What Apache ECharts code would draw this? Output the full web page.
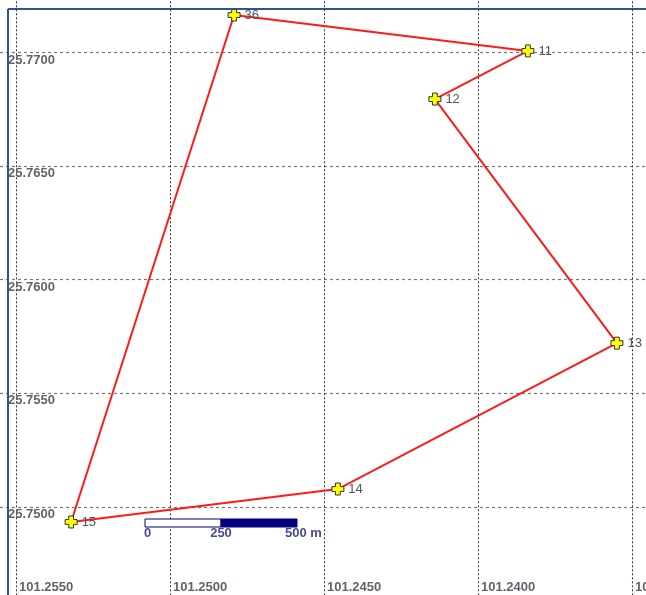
<!DOCTYPE html>
<html lang="en">
<head>
    <meta charset="UTF-8">
    <title>Route map</title>
    <script src="https://cdn.jsdelivr.net/npm/echarts@6/dist/echarts.min.js"></script>
    <style>
        html, body { margin: 0; padding: 0; background: #fff; }
        #chart { width: 646px; height: 595px; }
    </style>
</head>
<body>
    <div id="chart"></div>
    <script>
        // station ids and coordinates
        const pointIds = ['36', '11', '12', '13', '14', '15'];
        const lons = [101.24792, 101.23838, 101.24140, 101.23549, 101.24455, 101.25321];
        const lats = [25.77165, 25.77007, 25.76795, 25.75721, 25.75079, 25.74934];
        // order in which the route visits the stations (closed loop)
        const routeOrder = [5, 0, 1, 2, 3, 4, 5];

        // scale bar ticks
        const scaleLabels = ['0', '250', '500 m'];

        const chart = echarts.init(document.getElementById('chart'));

        const points = pointIds.map((id, i) => ({ name: id, value: [lons[i], lats[i]] }));
        const route = routeOrder.map(i => [lons[i], lats[i]]);

        const crossPath = 'path://M3,0 H7 V3 H10 V7 H7 V10 H3 V7 H0 V3 H3 Z';

        chart.setOption({
            animation: false,
            backgroundColor: '#fff',
            // grid is larger than the window so the round ticks land where the map has them
            grid: {
                left: -138, right: -140, top: -174.7, bottom: -139.2,
                containLabel: false,
                outerBoundsMode: 'none'
            },
            xAxis: {
                type: 'value',
                inverse: true,
                min: 101.2300,
                max: 101.2600,
                interval: 0.005,
                offset: -139.2,
                axisLine: { show: false },
                axisTick: { show: false },
                axisLabel: {
                    inside: true,
                    margin: 1,
                    align: 'left',
                    padding: [0, 0, 0, 3],
                    color: '#60646f',
                    fontFamily: 'Liberation Sans',
                    fontWeight: 'bold',
                    fontSize: 13,
                    formatter: v => v.toFixed(4)
                },
                splitLine: { show: true, lineStyle: { color: '#333', type: [2, 2], width: 1 } }
            },
            yAxis: {
                type: 'value',
                min: 25.7400,
                max: 25.7800,
                interval: 0.005,
                offset: -146,
                axisLine: { show: false },
                axisTick: { show: false },
                axisLabel: {
                    inside: true,
                    margin: 0,
                    verticalAlign: 'top',
                    padding: [1, 0, 0, 0],
                    color: '#60646f',
                    fontFamily: 'Liberation Sans',
                    fontWeight: 'bold',
                    fontSize: 13,
                    formatter: v => v.toFixed(4)
                },
                splitLine: { show: true, lineStyle: { color: '#777', type: [3, 3], width: 1.2 } }
            },
            series: [
                {
                    type: 'line',
                    data: route,
                    showSymbol: false,
                    clip: false,
                    lineStyle: { color: '#ff1a1a', width: 2 },
                    z: 3
                },
                {
                    type: 'scatter',
                    data: points,
                    symbol: crossPath,
                    symbolSize: 12,
                    clip: false,
                    itemStyle: { color: '#ffff00', borderColor: '#333', borderWidth: 1, opacity: 1 },
                    label: {
                        show: true,
                        position: 'right',
                        distance: 4,
                        formatter: p => p.name,
                        color: '#50545f',
                        fontFamily: 'Liberation Sans',
                        fontSize: 13
                    },
                    z: 4
                }
            ],
            graphic: [
                // map frame
                { type: 'line', shape: { x1: 8, y1: 9, x2: 646, y2: 9 }, style: { stroke: '#2f5590', lineWidth: 2 }, z: 10 },
                { type: 'line', shape: { x1: 8, y1: 9, x2: 8, y2: 595 }, style: { stroke: '#2f5590', lineWidth: 2 }, z: 10 },
                // scale bar
                { type: 'rect', shape: { x: 145, y: 519, width: 76, height: 8 }, style: { fill: '#fff', stroke: '#000080', lineWidth: 1 }, z: 10 },
                { type: 'rect', shape: { x: 221, y: 519, width: 76, height: 8 }, style: { fill: '#000080', stroke: '#000080', lineWidth: 1 }, z: 10 },
                { type: 'text', x: 144, y: 527, style: { text: scaleLabels[0], fill: '#4a4a9a', font: 'bold 13px Liberation Sans', textAlign: 'left' }, z: 10 },
                { type: 'text', x: 221, y: 527, style: { text: scaleLabels[1], fill: '#4a4a9a', font: 'bold 13px Liberation Sans', textAlign: 'center' }, z: 10 },
                { type: 'text', x: 285, y: 527, style: { text: scaleLabels[2], fill: '#4a4a9a', font: 'bold 13px Liberation Sans', textAlign: 'left' }, z: 10 }
            ]
        });
    </script>
</body>
</html>
